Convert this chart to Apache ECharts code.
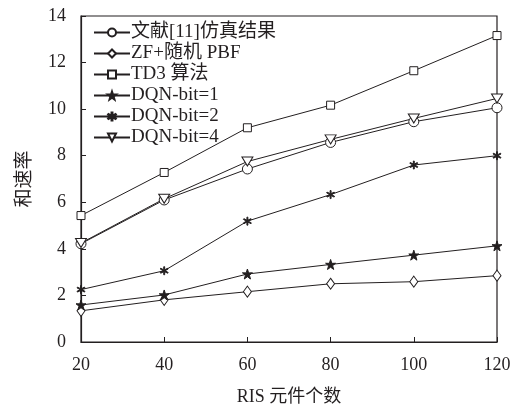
<!DOCTYPE html>
<html>
<head>
<meta charset="utf-8">
<script src="https://cdn.jsdelivr.net/npm/echarts@6/dist/echarts.min.js"></script>
<style>html,body{margin:0;padding:0;background:#fff;}#c{width:518px;height:411px;}</style>
</head>
<body>
<div id="c"></div>
<script>
var xValues = [20, 40, 60, 80, 100, 120];
var seriesNames = ['文献[11]仿真结果', 'ZF+随机 PBF', 'TD3 算法', 'DQN-bit=1', 'DQN-bit=2', 'DQN-bit=4'];
var ref11 = [4.22, 6.1, 7.43, 8.57, 9.46, 10.06];
var zfRandom = [1.34, 1.81, 2.16, 2.5, 2.59, 2.85];
var td3 = [5.43, 7.28, 9.2, 10.17, 11.65, 13.16];
var dqnBit1 = [1.59, 2.02, 2.92, 3.33, 3.73, 4.13];
var dqnBit2 = [2.25, 3.06, 5.19, 6.33, 7.6, 8.0];
var dqnBit4 = [4.25, 6.15, 7.75, 8.7, 9.6, 10.46];

var INK = '#231f20';
var FONT = '"Liberation Serif", "Noto Sans CJK SC", serif';
var starPath = 'path://M50,0 L61.8,35.1 L97.6,34.5 L69.1,56.2 L79.4,90.5 L50,69.9 L20.6,90.5 L30.9,56.2 L2.4,34.5 L38.2,35.1 Z';
var asteriskPath = 'path://M45,0 L55,0 L55,38 L88,19 L93,28 L60,50 L93,72 L88,81 L55,62 L55,100 L45,100 L45,62 L12,81 L7,72 L40,50 L7,28 L12,19 L45,38 Z';

function pairs(vals){ return xValues.map(function(x,i){ return [x, vals[i]]; }); }

function mk(name, vals, symbol, size, filled, rotate){
  return {
    name: name, type: 'line', data: pairs(vals),
    symbol: symbol, symbolSize: size, symbolRotate: rotate || 0,
    showAllSymbol: true,
    lineStyle: {color: INK, width: 1},
    itemStyle: {color: filled ? INK : '#fff', borderColor: INK, borderWidth: 1},
    emphasis: {disabled: true},
    z: 2
  };
}

var chart = echarts.init(document.getElementById('c'));
chart.setOption({
  animation: false,
  backgroundColor: '#fff',
  grid: {left: 81, right: 21, top: 16, bottom: 67, show: true, borderColor: INK, borderWidth: 1.2, backgroundColor: 'transparent'},
  legend: {
    orient: 'vertical', left: 88, top: 18,
    itemWidth: 36, itemHeight: 10, itemGap: 2,
    textStyle: {fontFamily: FONT, fontSize: 19, color: INK, lineHeight: 19, padding: [0,0,0,-4]},
    data: seriesNames
  },
  xAxis: {
    type: 'value', min: 20, max: 120, interval: 20,
    name: 'RIS 元件个数', nameLocation: 'middle', nameGap: 46,
    nameTextStyle: {fontFamily: FONT, fontSize: 18, color: INK},
    axisLine: {show: true, lineStyle: {color: INK, width: 1.2}},
    axisTick: {show: true, inside: true, length: 5, lineStyle: {color: INK}},
    axisLabel: {fontFamily: FONT, fontSize: 18, color: INK, margin: 14},
    splitLine: {show: false}
  },
  yAxis: {
    type: 'value', min: 0, max: 14, interval: 2,
    name: '和速率', nameLocation: 'middle', nameGap: 46, nameRotate: 90,
    nameTextStyle: {fontFamily: FONT, fontSize: 19, color: INK},
    axisLine: {show: true, lineStyle: {color: INK, width: 1.2}},
    axisTick: {show: true, inside: true, length: 5, lineStyle: {color: INK}},
    axisLabel: {fontFamily: FONT, fontSize: 18, color: INK, margin: 15},
    splitLine: {show: false}
  },
  series: [
    mk(seriesNames[0], ref11, 'circle', 10, false),
    mk(seriesNames[1], zfRandom, 'diamond', [8, 11], false),
    mk(seriesNames[2], td3, 'rect', 8, false),
    mk(seriesNames[3], dqnBit1, starPath, 10, true),
    mk(seriesNames[4], dqnBit2, asteriskPath, 8, true),
    mk(seriesNames[5], dqnBit4, 'triangle', [11, 9], false, 180)
  ]
});
</script>
</body>
</html>
